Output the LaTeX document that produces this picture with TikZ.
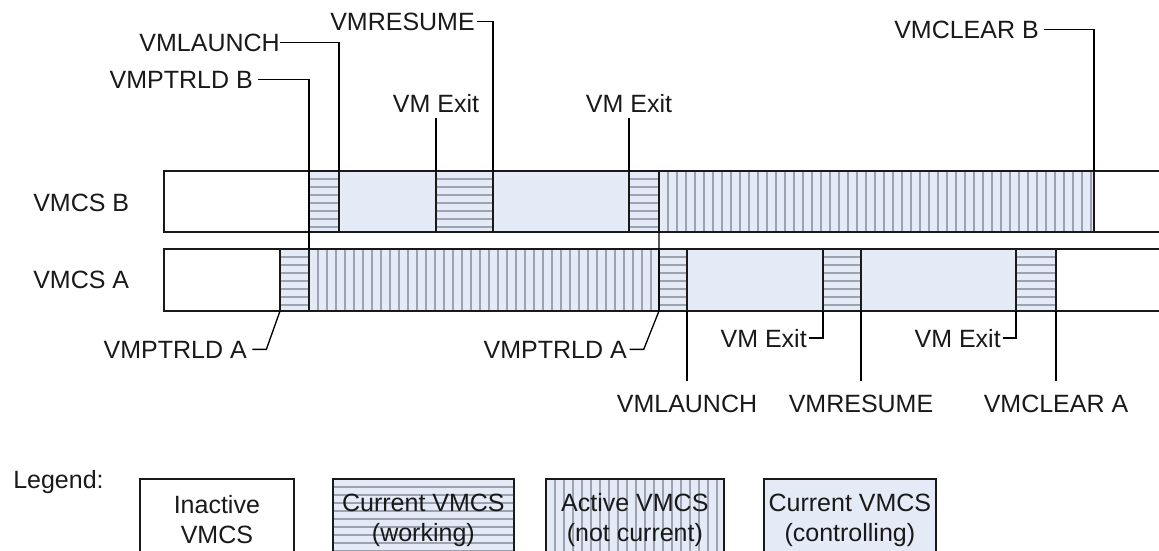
\documentclass[tikz,border=0pt]{standalone}
\usepackage{fontspec}
\setmainfont{Liberation Sans}
\usetikzlibrary{calc,positioning}
\definecolor{ctrlblue}{RGB}{229,235,246}
\definecolor{stripegray}{RGB}{158,162,176}
\tikzset{
  bar/.style={draw=black!90, line width=1.3pt},
  inactive/.style={bar, fill=white},
  controlling/.style={bar, fill=ctrlblue},
  working/.style={bar, fill=ctrlblue, path picture={
      \foreach \k in {1,...,14}{\draw[stripegray, line width=1pt]
        ([yshift=-\k*6pt]path picture bounding box.north west) --
        ([yshift=-\k*6pt]path picture bounding box.north east);}}},
  notcurrent/.style={bar, fill=ctrlblue, path picture={
      \foreach \k in {1,...,70}{\draw[stripegray, line width=1pt]
        ([xshift=\k*6.75pt]path picture bounding box.north west) --
        ([xshift=\k*6.75pt]path picture bounding box.south west);}}},
  lead/.style={draw=black, line width=1pt},
  lbl/.style={font=\fontsize{18.75}{22.5}\selectfont, text=black!90, inner sep=0pt},
  key/.style={lbl, align=center, minimum height=61.5pt, anchor=north west}
}

\begin{document}
\begin{tikzpicture}[x=0.75pt, y=-0.75pt]
  \useasboundingbox (0,0) rectangle (1159,550);
  \clip (0,0) rectangle (1159,550);
  % VMCS B
  \path[inactive]    (164,171) rectangle (309,232);
  \path[working]     (309,171) rectangle (339,232);
  \path[controlling] (339,171) rectangle (436,232);
  \path[working]     (436,171) rectangle (493,232);
  \path[controlling] (493,171) rectangle (629,232);
  \path[working]     (629,171) rectangle (659,232);
  \path[notcurrent]  (659,171) rectangle (1094,232);
  \path[inactive]    (1094,171) rectangle (1170,232);
  % VMCS A
  \path[inactive]    (164,249) rectangle (280,311);
  \path[working]     (280,249) rectangle (309,311);
  \path[notcurrent]  (309,249) rectangle (659,311);
  \path[working]     (659,249) rectangle (687,311);
  \path[controlling] (687,249) rectangle (823,311);
  \path[working]     (823,249) rectangle (861,311);
  \path[controlling] (861,249) rectangle (1016,311);
  \path[working]     (1016,249) rectangle (1056,311);
  \path[inactive]    (1056,249) rectangle (1170,311);

  \node[lbl, anchor=base west] (lblB) at (33,211) {VMCS B};
  \node[lbl, anchor=base west] (lblA) at (33,288) {VMCS A};

  % events above VMCS B
  \coordinate (pB)  at (309,249);
  \coordinate (lB)  at (339,171);
  \coordinate (xB1) at (436,171);
  \coordinate (rB)  at (493,171);
  \coordinate (xB2) at (629,171);
  \coordinate (cB)  at (1094,171);
  \node[lbl, anchor=base east] (ptrldB)  at (253,88)  {VMPTRLD B};
  \node[lbl, anchor=base east] (launchB) at (280,51)  {VMLAUNCH};
  \node[lbl, anchor=base east] (resumeB) at (475,30)  {VMRESUME};
  \node[lbl, anchor=base]      (exitB1)  at (436,112) {VM Exit};
  \node[lbl, anchor=base]      (exitB2)  at (629,112) {VM Exit};
  \node[lbl, anchor=base east] (clearB)  at (1039,38) {VMCLEAR B};
  \draw[lead] ([xshift=4pt]ptrldB.east) -| (pB);
  \draw[lead] (launchB.east) -| (lB);
  \draw[lead] ([xshift=1.5pt]resumeB.east) -| (rB);
  \draw[lead] ([yshift=-4pt]exitB1.south) -- (xB1);
  \draw[lead] ([yshift=-4pt]exitB2.south) -- (xB2);
  \draw[lead] ([xshift=4pt]clearB.east) -| (cB);

  % events below VMCS A
  \coordinate (pA1) at (280,311);
  \coordinate (pA2) at (659,311);
  \coordinate (gA2) at (659,232);
  \coordinate (lA)  at (687,311);
  \coordinate (xA1) at (823,311);
  \coordinate (rA)  at (861,311);
  \coordinate (xA2) at (1016,311);
  \coordinate (cA)  at (1056,311);
  \node[lbl, anchor=base east] (ptrldA1) at (247,358)  {VMPTRLD A};
  \node[lbl, anchor=base east] (ptrldA2) at (627,358)  {VMPTRLD A};
  \node[lbl, anchor=base east] (exitA1)  at (807,347)  {VM Exit};
  \node[lbl, anchor=base east] (exitA2)  at (1001,347) {VM Exit};
  \node[lbl, anchor=base]      (launchA) at (687,412)  {VMLAUNCH};
  \node[lbl, anchor=base]      (resumeA) at (861,412)  {VMRESUME};
  \node[lbl, anchor=base]      (clearA)  at (1056,412) {VMCLEAR A};
  \draw[lead] ([xshift=4pt]ptrldA1.east) -- ++(14,0) -- (pA1);
  \draw[lead] ([xshift=2pt]ptrldA2.east) -- ++(14,0) -- (pA2) -- (gA2);
  \draw[lead] ([xshift=1.5pt]exitA1.east) -| (xA1);
  \draw[lead] ([xshift=1.5pt]exitA2.east) -| (xA2);
  \draw[lead] (lA) -- ([yshift=10pt]launchA.north);
  \draw[lead] (rA) -- ([yshift=10pt]resumeA.north);
  \draw[lead] (cA) -- ([yshift=10pt]clearA.north);

  % legend
  \node[lbl, anchor=base west] (legend) at (13,488) {Legend:};
  \node[key, inactive, minimum width=115.5pt]      (keyInactive) at (139,478) {Inactive\\VMCS};
  \node[key, working, minimum width=135.75pt]      (keyWorking)  at (332,478) {Current VMCS\\(working)};
  \node[key, notcurrent, minimum width=133.5pt]    (keyActive)   at (545,478) {Active VMCS\\(not current)};
  \node[key, controlling, minimum width=129pt]     (keyCtrl)     at (763,478) {Current VMCS\\(controlling)};
\end{tikzpicture}
\end{document}
